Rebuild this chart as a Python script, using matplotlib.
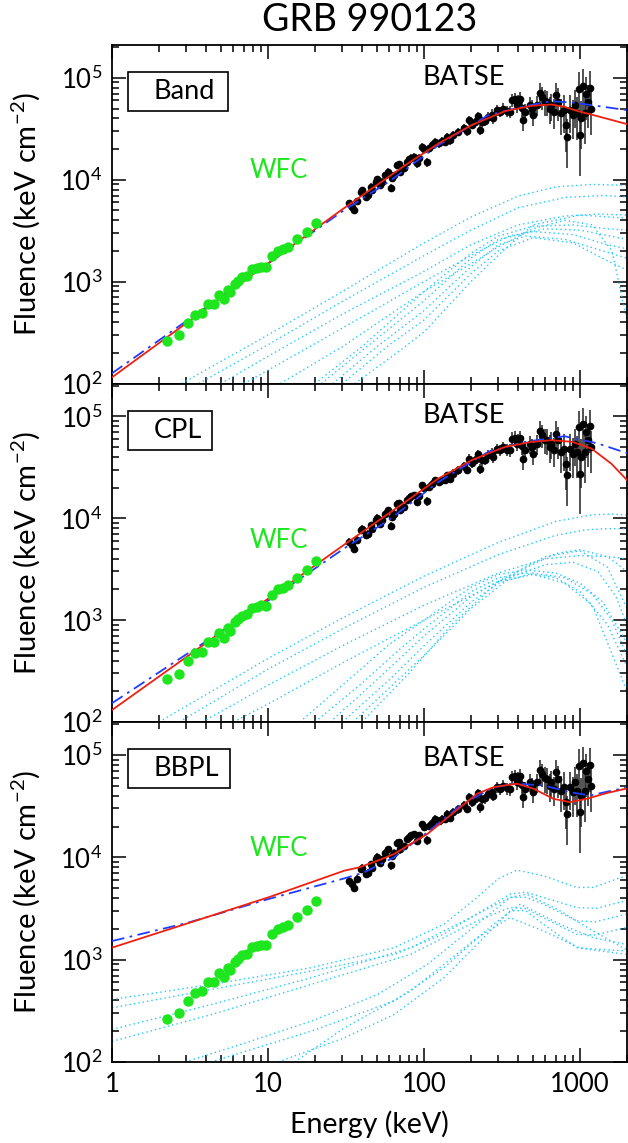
import numpy as np
import matplotlib
matplotlib.use('Agg')
import matplotlib.pyplot as plt
from matplotlib.patches import Rectangle

plt.rcParams['font.family'] = ['Lato', 'DejaVu Sans']
plt.rcParams['font.weight'] = 'normal'
plt.rcParams['mathtext.default'] = 'regular'

# ---- data ----
# WFC points (keV, keV cm^-2)
wfc_e = [2.24, 2.67, 3.05, 3.40, 3.75, 4.10, 4.50, 4.84, 5.21, 5.56, 5.68, 6.12, 6.43,
         6.86, 7.38, 7.94, 8.51, 9.06, 9.66, 10.65, 11.58, 12.47, 13.53, 15.3, 17.8, 20.3]
wfc_f = [264, 298, 396, 471, 490, 604, 604, 740, 671, 828, 787, 948, 1021,
         1104, 1136, 1321, 1352, 1400, 1383, 1783, 2010, 2075, 2200, 2600, 3069, 3784]

# BATSE points
batse_e = [33.0, 34.7, 35.6, 37.3, 39.2, 40.2, 42.2, 43.9, 45.4, 46.5,
           48.9, 50.1, 52.6, 54.0, 56.6, 58.9, 61.5, 62.4, 64.0, 67.2,
           68.9, 70.6, 74.1, 77.8, 79.8, 83.0, 85.9, 90.2, 92.5, 97.0,
           99.4, 104.4, 107.0, 112.4, 118.0, 123.9, 130.0, 136.8, 140.0, 147.2,
           154.5, 166.3, 179.1, 187.9, 192.8, 202.3, 212.4, 222.8, 228.6, 234.4,
           246.0, 258.2, 271.6, 278.0, 291.7, 306.9, 322.1, 338.1, 354.8, 363.9,
           382.0, 391.7, 401.8, 411.2, 421.7, 432.5, 442.6, 476.4, 488.7, 500.0,
           526.0, 552.1, 571.5, 594.3, 618.0, 639.7, 654.6, 680.8, 704.7, 722.8,
           758.6, 788.8, 816.6, 829.8, 857.0, 901.6, 922.6, 959.4, 979.5, 993.1,
           1018, 1044, 1069, 1096, 1122, 1151, 1180]
batse_f = [5860, 5430, 5040, 6180, 7620, 7920, 6810, 7080, 8540, 7920,
           9550, 10140, 8870, 9550, 11120, 11970, 8340, 10300, 11120, 13930,
           14130, 11970, 12900, 15000, 15920, 16430, 16790, 14450, 16430, 21040,
           20000, 14790, 20280, 21880, 23550, 22700, 23930, 23550, 26360, 24490,
           27420, 29510, 32360, 29990, 38460, 34830, 36980, 42360, 30690, 36980,
           37580, 41400, 43650, 39900, 48190, 46450, 50000, 47100, 46450, 60390,
           61800, 53950, 58210, 61800, 50800, 38460, 46450, 53950, 50000, 43050,
           53950, 71780, 65160, 59020, 58210, 50000, 53950, 46450, 67610, 58210,
           44670, 48190, 34360, 26360, 48190, 43050, 53950, 44670, 78520, 27420,
           39900, 83370, 44670, 70150, 58210, 79800, 50000]
# fractional 1-sigma errors
batse_rel_err = [0.09, 0.09, 0.09, 0.08, 0.08, 0.08, 0.08, 0.08, 0.08, 0.08,
                 0.08, 0.08, 0.08, 0.08, 0.08, 0.08, 0.09, 0.08, 0.08, 0.08,
                 0.08, 0.09, 0.08, 0.08, 0.08, 0.08, 0.08, 0.09, 0.08, 0.08,
                 0.09, 0.10, 0.09, 0.09, 0.09, 0.09, 0.09, 0.09, 0.09, 0.10,
                 0.10, 0.10, 0.10, 0.10, 0.10, 0.10, 0.10, 0.10, 0.11, 0.11,
                 0.11, 0.12, 0.12, 0.12, 0.12, 0.12, 0.13, 0.13, 0.14, 0.15,
                 0.15, 0.16, 0.16, 0.17, 0.18, 0.22, 0.18, 0.20, 0.20, 0.22,
                 0.22, 0.25, 0.25, 0.28, 0.28, 0.30, 0.30, 0.32, 0.32, 0.35,
                 0.38, 0.40, 0.45, 0.50, 0.40, 0.42, 0.40, 0.45, 0.45, 0.60,
                 0.50, 0.45, 0.50, 0.45, 0.45, 0.45, 0.45]

# total fits: solid red and dash-dot blue, one pair per model
band_red_e = [1, 3, 10, 28.5, 46.5, 76, 124, 202, 330, 489, 655, 794, 970, 1180, 2000]
band_red_f = [115, 392, 1514, 4850, 8220, 13930, 22700, 34360, 47100, 53090, 54700,
              52000, 47100, 43650, 35160]
band_blue_e = [1, 10, 30, 59.5, 124, 258, 443, 655, 880, 1180, 2000]
band_blue_f = [126, 1500, 4900, 9550, 21900, 43050, 52700, 59000, 57300, 54000, 48200]

cpl_red_e = [1, 10, 28.5, 46.5, 76, 124, 202, 330, 489, 655, 890, 1180, 1580, 2000]
cpl_red_f = [131, 1620, 5060, 8570, 14490, 24600, 37150, 50100, 56100, 58300, 56200,
             48400, 34500, 23700]
cpl_blue_e = [1, 10, 30.8, 59.5, 124, 258, 443, 795, 1300, 2000]
cpl_blue_f = [153, 1550, 5060, 9600, 22750, 44800, 56100, 63800, 54200, 43500]

bbpl_red_e = [1, 10, 30.8, 38.5, 50.4, 64.3, 82.0, 105, 134, 171, 219, 279, 394, 504,
              675, 861, 1102, 1479, 1963]
bbpl_red_f = [1310, 4050, 7400, 7980, 9270, 10760, 13520, 16900, 22860, 30900, 41800,
              48500, 52400, 46800, 37300, 34600, 37300, 42400, 46800]
bbpl_blue_e = [1, 3.08, 10, 30.8, 41.4, 64.3, 105, 171, 279, 394, 582, 861, 1156, 1552, 1963]
bbpl_blue_f = [1520, 2300, 3900, 6220, 7130, 10000, 17580, 32060, 48500, 52400, 50350,
               43350, 40180, 44360, 47860]

# time-resolved spectra (cyan dotted), per model
band_parts = [
    ([2.8, 10, 30, 100, 200, 400, 700, 1200, 2000], [100, 300, 800, 2400, 4300, 6900, 8500, 9000, 8800]),
    ([3.6, 10, 30, 100, 200, 400, 800, 1400, 2000], [100, 240, 640, 1800, 3200, 5300, 6700, 7000, 6800]),
    ([5.0, 10, 30, 100, 200, 400, 800, 1300, 2000], [100, 185, 480, 1260, 2300, 3600, 4400, 4600, 4500]),
    ([7.0, 10, 30, 100, 200, 350, 600, 1000, 2000], [100, 135, 350, 1000, 1800, 2800, 3300, 3200, 2600]),
    ([12, 30, 100, 200, 300, 500, 800, 1200, 1600, 2000], [100, 230, 800, 1500, 2200, 3300, 4000, 3600, 2000, 420]),
    ([20, 40, 100, 200, 300, 500, 900, 1500, 2000], [100, 230, 800, 1900, 2800, 3500, 3600, 3300, 3200]),
    ([22, 40, 100, 200, 300, 500, 900, 1500, 2000], [100, 210, 650, 1700, 2600, 3100, 2900, 2300, 2100]),
    ([26, 50, 100, 200, 300, 450, 800, 1400, 2000], [100, 230, 520, 1400, 2300, 2800, 2600, 2000, 1700]),
    ([30, 60, 100, 200, 300, 500, 900, 1500, 2000], [100, 240, 420, 1200, 2000, 2700, 2400, 1600, 1300]),
    ([36, 70, 100, 200, 320, 500, 1000, 2000], [100, 210, 320, 1000, 2000, 3600, 4500, 4200]),
]
cpl_parts = [
    ([2.0, 10, 30, 100, 300, 700, 1200, 1600, 2000], [100, 420, 1050, 2700, 5800, 9300, 10800, 11000, 10700]),
    ([2.7, 10, 30, 100, 300, 700, 1100, 1500, 2000], [100, 330, 820, 2100, 4400, 6800, 7700, 7900, 7900]),
    ([3.8, 10, 30, 100, 300, 600, 1000, 1500, 2000], [100, 230, 560, 1400, 2900, 4000, 4300, 4200, 4000]),
    ([6, 10, 30, 100, 300, 600, 900, 1300, 1700, 2000], [100, 150, 380, 1000, 2400, 3500, 3700, 3000, 1700, 900]),
    ([16, 30, 60, 100, 200, 300, 450, 700, 1000, 1400, 2000], [100, 230, 580, 1000, 2100, 2800, 3100, 2900, 2300, 1500, 600]),
    ([20, 40, 70, 100, 200, 300, 450, 700, 1000, 1500, 2000], [100, 240, 520, 820, 1900, 2600, 2900, 2600, 1900, 900, 350]),
    ([25, 50, 100, 200, 300, 500, 800, 1200, 2000], [100, 260, 700, 1700, 2400, 2800, 2300, 1400, 200]),
    ([30, 60, 100, 200, 300, 500, 800, 1200, 1600, 2000], [100, 260, 560, 1500, 2300, 2900, 2600, 1800, 1000, 450]),
    ([35, 70, 100, 200, 400, 700, 1000, 1500, 2000], [100, 270, 450, 1300, 3000, 4500, 4900, 4200, 3000]),
    ([40, 80, 150, 300, 600, 1000, 1500, 2000], [100, 300, 900, 2400, 4200, 4800, 3300, 1300]),
]
bbpl_parts = [
    ([1, 4.35, 18.9, 64.3, 134, 219, 300, 394, 582, 950, 1214, 1963],
     [408, 573, 834, 1309, 2218, 4055, 6200, 7500, 6600, 5080, 5080, 6600]),
    ([1, 4.35, 18.9, 64.3, 134, 219, 357, 447, 950, 1259, 1963],
     [338, 512, 774, 1122, 1778, 2818, 4365, 4571, 3236, 3162, 3758]),
    ([1, 4.35, 18.9, 82, 219, 357, 447, 582, 950, 1259, 1963],
     [208, 365, 665, 1309, 2780, 4055, 4074, 3483, 2393, 2344, 2780]),
    ([1, 4.35, 18.9, 82, 219, 357, 447, 582, 950, 1259, 1963],
     [159, 291, 573, 1127, 2393, 3236, 3162, 2570, 1770, 1738, 2056]),
    ([2.94, 7.1, 18.9, 50.4, 105, 219, 357, 456, 745, 1213, 1963],
     [100, 153, 250, 457, 899, 2218, 4055, 4365, 3000, 1910, 1262]),
    ([11.6, 30.8, 64.3, 134, 219, 357, 447, 582, 950, 1963],
     [100, 172, 291, 665, 1413, 3000, 3020, 2218, 1309, 1127]),
    ([4.3, 18.9, 64.3, 134, 279, 414, 745, 1213, 1963],
     [100, 200, 394, 834, 2218, 3483, 2218, 1641, 1413]),
    ([14.8, 30.8, 82, 219, 357, 582, 1000, 1963],
     [100, 215, 493, 1641, 2570, 1910, 1300, 1216]),
]

panels = [
    ('Band', band_red_e, band_red_f, band_blue_e, band_blue_f, band_parts, 0.194, 1.0e5, 1.24e4),
    ('CPL', cpl_red_e, cpl_red_f, cpl_blue_e, cpl_blue_f, cpl_parts, 0.163, 1.03e5, 6.1e3),
    ('BBPL', bbpl_red_e, bbpl_red_f, bbpl_blue_e, bbpl_blue_f, bbpl_parts, 0.198, 0.92e5, 1.23e4),
]

fig = plt.figure(figsize=(6.28, 11.43), dpi=100)

left = 112 / 628
width = 515 / 628
tops = [45, 383.5, 722]
heights = [338.5, 338.5, 340]

batse_err = np.array(batse_f) * np.array(batse_rel_err)

for i, (name, re_, rf, be, bf, parts, boxw, y_batse, y_wfc) in enumerate(panels):
    bottom_px = tops[i] + heights[i]
    ax = fig.add_axes([left, 1 - bottom_px / 1143, width, heights[i] / 1143])
    ax.set_xscale('log')
    ax.set_yscale('log')

    for pe, pf in parts:
        ax.plot(pe, pf, color='#22c8ff', lw=1.0, ls=(0, (1, 2.2)))

    ax.errorbar(batse_e, batse_f, yerr=batse_err, fmt='o', color='black',
                ms=4.5, elinewidth=1.1, ecolor='#222222', capsize=0, zorder=3)

    ax.plot(be, bf, color='#1f3cff', lw=1.3, ls=(0, (7, 3, 1.5, 3)), zorder=4)
    ax.plot(re_, rf, color='#ee2010', lw=1.3, zorder=4)

    ax.plot(wfc_e, wfc_f, 'o', color='#1ee61e', ms=7.5, mec='none', zorder=5)

    ax.set_xlim(1, 2000)
    ax.set_ylim(100, 2.1e5)

    ax.text(179, y_batse, 'BATSE', ha='center', va='center', fontsize=19.5)
    ax.text(11.7, y_wfc, 'WFC', ha='center', va='center', fontsize=18.5, color='#1ee61e')

    ax.add_patch(Rectangle((0.031, 0.805), boxw, 0.115, transform=ax.transAxes,
                           fill=False, ec='black', lw=1.2, zorder=6))
    ax.text(0.0814, 0.862, name, transform=ax.transAxes, ha='left', va='center',
            fontsize=19.5, zorder=6)

    ax.tick_params(which='both', direction='in', top=True, right=True,
                   width=1.1, colors='black')
    ax.tick_params(which='major', length=10, labelsize=18.5, pad=7)
    ax.tick_params(which='minor', length=5)
    ax.set_yticks([1e2, 1e3, 1e4, 1e5])
    ax.set_yticklabels(['$10^{2}$', '$10^{3}$', '$10^{4}$', '$10^{5}$'])
    ax.set_xticks([1, 10, 100, 1000])
    if i == 2:
        ax.set_xticklabels(['1', '10', '100', '1000'])
        ax.set_xlabel('Energy (keV)', fontsize=20.5)
        ax.xaxis.set_label_coords(0.5, -0.141)
    else:
        ax.set_xticklabels([])
    ax.set_ylabel('Fluence (keV cm$^{-2}$)', fontsize=21)
    ax.yaxis.set_label_coords(-0.136, 0.5)
    for s in ax.spines.values():
        s.set_linewidth(1.3)

fig.text(370 / 628, 1 - 20 / 1143, 'GRB 990123', ha='center', va='center', fontsize=27)

plt.savefig('out.png', dpi=100)
